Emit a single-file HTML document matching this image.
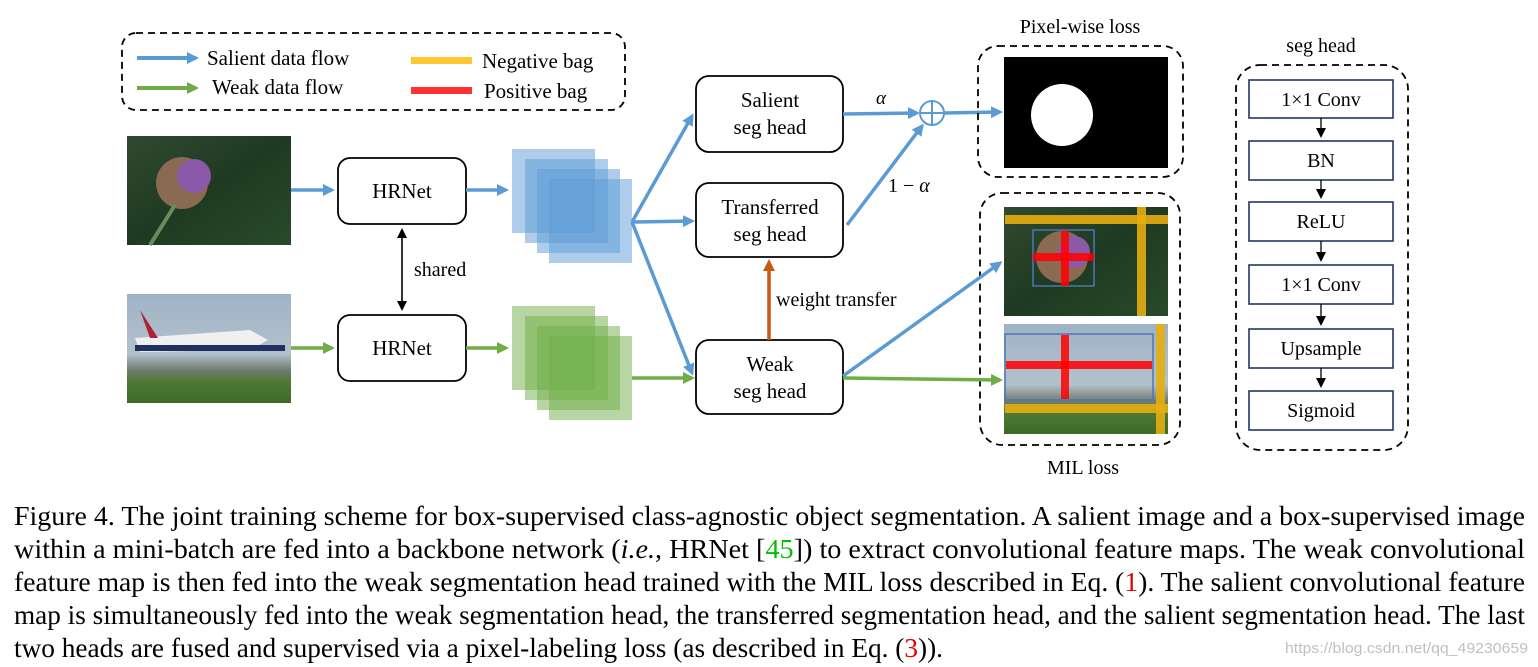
<!DOCTYPE html>
<html><head><meta charset="utf-8"><style>
html,body{margin:0;padding:0;background:#fff;}
svg{display:block;}
text{font-family:"Liberation Serif",serif;fill:#000;}
</style></head><body>
<svg width="1538" height="667" viewBox="0 0 1538 667" xmlns="http://www.w3.org/2000/svg">
<defs>
<marker id="ab" markerWidth="12" markerHeight="12" refX="9" refY="6" orient="auto" markerUnits="userSpaceOnUse"><path d="M0,0 L12,6 L0,12 z" fill="#5b9bd5"/></marker>
<marker id="ag" markerWidth="12" markerHeight="12" refX="9" refY="6" orient="auto" markerUnits="userSpaceOnUse"><path d="M0,0 L12,6 L0,12 z" fill="#70ad47"/></marker>
<marker id="ao" markerWidth="12" markerHeight="12" refX="8" refY="6" orient="auto" markerUnits="userSpaceOnUse"><path d="M0,0 L12,6 L0,12 z" fill="#c55a11"/></marker>
<marker id="ak" markerWidth="10" markerHeight="10" refX="8" refY="5" orient="auto" markerUnits="userSpaceOnUse"><path d="M0,0 L10,5 L0,10 z" fill="#000"/></marker>
<marker id="ak2" markerWidth="10" markerHeight="10" refX="8" refY="5" orient="auto-start-reverse" markerUnits="userSpaceOnUse"><path d="M0,0 L10,5 L0,10 z" fill="#000"/></marker>
<linearGradient id="fl" x1="0" y1="0" x2="1" y2="1"><stop offset="0" stop-color="#2f4a30"/><stop offset="0.5" stop-color="#1f3a22"/><stop offset="1" stop-color="#294a2a"/></linearGradient>
<linearGradient id="pl" x1="0" y1="0" x2="0" y2="1"><stop offset="0" stop-color="#9fb2c6"/><stop offset="0.55" stop-color="#b3c1cc"/><stop offset="0.7" stop-color="#707c70"/><stop offset="0.8" stop-color="#4e7a34"/><stop offset="1" stop-color="#3e6a2a"/></linearGradient>
</defs>

<rect x="122" y="33" width="503" height="77" rx="14" fill="none" stroke="#000" stroke-width="1.8" stroke-dasharray="7,5"/>
<line x1="137" y1="58" x2="196" y2="58" stroke="#5b9bd5" stroke-width="4" marker-end="url(#ab)"/>
<line x1="137" y1="88" x2="196" y2="88" stroke="#70ad47" stroke-width="4" marker-end="url(#ag)"/>
<text x="207" y="65" font-size="21">Salient data flow</text>
<text x="212" y="94" font-size="21">Weak data flow</text>
<rect x="411" y="57" width="61" height="7" fill="#ffc832"/>
<rect x="411" y="87" width="61" height="7" fill="#ff3333"/>
<text x="482" y="68" font-size="21">Negative bag</text>
<text x="484" y="98" font-size="21">Positive bag</text>

<rect x="127" y="136" width="164" height="109" fill="url(#fl)"/>
<circle cx="182" cy="183" r="26" fill="#8a6a50"/>
<circle cx="194" cy="176" r="17" fill="#8a5aa8"/>
<path d="M150 245 L175 205" stroke="#6b8a60" stroke-width="4"/>
<rect x="127" y="294" width="164" height="109" fill="url(#pl)"/>
<path d="M135 338 L250 330 L268 340 L250 350 L140 352 Z" fill="#eef0f2"/>
<path d="M140 310 L150 338 L158 338 Z" fill="#b02030"/>
<rect x="135" y="345" width="150" height="6" fill="#203060"/>

<rect x="338" y="158" width="128" height="66" rx="12" fill="#fff" stroke="#000" stroke-width="1.8"/>
<text x="402" y="198" font-size="21" text-anchor="middle">HRNet</text>
<rect x="338" y="315" width="128" height="66" rx="12" fill="#fff" stroke="#000" stroke-width="1.8"/>
<text x="402" y="355" font-size="21" text-anchor="middle">HRNet</text>
<line x1="402" y1="230" x2="402" y2="309" stroke="#000" stroke-width="1.6" marker-start="url(#ak2)" marker-end="url(#ak)"/>
<text x="414" y="276" font-size="20">shared</text>

<line x1="291" y1="190" x2="332" y2="190" stroke="#5b9bd5" stroke-width="3.5" marker-end="url(#ab)"/>
<line x1="291" y1="348" x2="332" y2="348" stroke="#70ad47" stroke-width="3.5" marker-end="url(#ag)"/>
<line x1="466" y1="190" x2="506" y2="190" stroke="#5b9bd5" stroke-width="3.5" marker-end="url(#ab)"/>
<line x1="466" y1="348" x2="506" y2="348" stroke="#70ad47" stroke-width="3.5" marker-end="url(#ag)"/>

<g fill="#5b9bd5" fill-opacity="0.5">
<rect x="512" y="149" width="83" height="84"/><rect x="525" y="159" width="83" height="84"/><rect x="537" y="169" width="83" height="84"/><rect x="549" y="179" width="83" height="84"/>
</g>
<g fill="#70ad47" fill-opacity="0.5">
<rect x="512" y="306" width="83" height="84"/><rect x="525" y="316" width="83" height="84"/><rect x="537" y="326" width="83" height="84"/><rect x="549" y="336" width="83" height="84"/>
</g>

<line x1="632" y1="222" x2="692" y2="116" stroke="#5b9bd5" stroke-width="3.5" marker-end="url(#ab)"/>
<line x1="632" y1="222" x2="692" y2="221" stroke="#5b9bd5" stroke-width="3.5" marker-end="url(#ab)"/>
<line x1="632" y1="222" x2="692" y2="373" stroke="#5b9bd5" stroke-width="3.5" marker-end="url(#ab)"/>
<line x1="632" y1="378" x2="692" y2="378" stroke="#70ad47" stroke-width="3.5" marker-end="url(#ag)"/>

<rect x="696" y="76" width="147" height="76" rx="13" fill="#fff" stroke="#000" stroke-width="1.8"/>
<text x="770" y="107" font-size="21" text-anchor="middle">Salient</text>
<text x="770" y="134" font-size="21" text-anchor="middle">seg head</text>
<rect x="696" y="183" width="147" height="74" rx="13" fill="#fff" stroke="#000" stroke-width="1.8"/>
<text x="770" y="214" font-size="21" text-anchor="middle">Transferred</text>
<text x="770" y="241" font-size="21" text-anchor="middle">seg head</text>
<rect x="696" y="340" width="147" height="74" rx="13" fill="#fff" stroke="#000" stroke-width="1.8"/>
<text x="770" y="371" font-size="21" text-anchor="middle">Weak</text>
<text x="770" y="398" font-size="21" text-anchor="middle">seg head</text>
<line x1="769" y1="340" x2="769" y2="263" stroke="#c55a11" stroke-width="3.5" marker-end="url(#ao)"/>
<text x="776" y="306" font-size="20">weight transfer</text>

<line x1="843" y1="114" x2="917" y2="113" stroke="#5b9bd5" stroke-width="3.5" marker-end="url(#ab)"/>
<text x="876" y="104" font-size="19" font-style="italic">α</text>
<line x1="847" y1="225" x2="922" y2="126" stroke="#5b9bd5" stroke-width="3.5" marker-end="url(#ab)"/>
<text x="888" y="192" font-size="20">1 − <tspan font-style="italic">α</tspan></text>
<circle cx="932" cy="113" r="12" fill="#fff" stroke="#5b9bd5" stroke-width="2"/>
<line x1="920" y1="113" x2="944" y2="113" stroke="#5b9bd5" stroke-width="2"/>
<line x1="932" y1="101" x2="932" y2="125" stroke="#5b9bd5" stroke-width="2"/>
<line x1="944" y1="113" x2="1000" y2="112" stroke="#5b9bd5" stroke-width="3.5" marker-end="url(#ab)"/>

<text x="1080" y="33" font-size="20" text-anchor="middle">Pixel-wise loss</text>
<rect x="978" y="46" width="205" height="131" rx="20" fill="none" stroke="#000" stroke-width="1.8" stroke-dasharray="7,5"/>
<rect x="1004" y="57" width="164" height="111" fill="#000"/>
<circle cx="1062" cy="115" r="31" fill="#fff"/>

<rect x="980" y="193" width="200" height="252" rx="22" fill="none" stroke="#000" stroke-width="1.8" stroke-dasharray="7,5"/>
<text x="1083" y="474" font-size="20" text-anchor="middle">MIL loss</text>
<line x1="843" y1="376" x2="1000" y2="263" stroke="#5b9bd5" stroke-width="3.5" marker-end="url(#ab)"/>
<line x1="843" y1="378" x2="1000" y2="380" stroke="#70ad47" stroke-width="3.5" marker-end="url(#ag)"/>
<rect x="1004" y="207" width="164" height="109" fill="url(#fl)"/>
<circle cx="1062" cy="257" r="26" fill="#8a6a50"/>
<circle cx="1074" cy="252" r="16" fill="#8a5aa8"/>
<rect x="1005" y="215" width="163" height="9" fill="#e6ad10" fill-opacity="0.9"/>
<rect x="1137" y="207" width="9" height="109" fill="#e6ad10" fill-opacity="0.9"/>
<rect x="1033" y="230" width="61" height="56" fill="none" stroke="#4a78b0" stroke-width="1.5"/>
<rect x="1033" y="253" width="61" height="8" fill="#ff0000" fill-opacity="0.85"/>
<rect x="1061" y="231" width="8" height="55" fill="#ff0000" fill-opacity="0.85"/>
<rect x="1004" y="324" width="164" height="110" fill="url(#pl)"/>
<rect x="1005" y="334" width="148" height="66" fill="none" stroke="#4a78b0" stroke-width="1.5"/>
<rect x="1006" y="361" width="146" height="8" fill="#ff0000" fill-opacity="0.85"/>
<rect x="1061" y="335" width="8" height="64" fill="#ff0000" fill-opacity="0.85"/>
<rect x="1005" y="404" width="163" height="9" fill="#e6ad10" fill-opacity="0.9"/>
<rect x="1156" y="324" width="9" height="110" fill="#e6ad10" fill-opacity="0.9"/>

<text x="1321" y="52" font-size="20" text-anchor="middle">seg head</text>
<rect x="1236" y="65" width="172" height="385" rx="24" fill="none" stroke="#000" stroke-width="1.8" stroke-dasharray="7,5"/>
<g fill="#fff" stroke="#1f3864" stroke-width="1.6">
<rect x="1249" y="80" width="144" height="38"/><rect x="1249" y="141" width="144" height="39"/><rect x="1249" y="202" width="144" height="39"/><rect x="1249" y="265" width="144" height="39"/><rect x="1249" y="329" width="144" height="39"/><rect x="1249" y="391" width="144" height="39"/>
</g>
<g stroke="#000" stroke-width="1.3">
<line x1="1321" y1="118" x2="1321" y2="136" marker-end="url(#ak)"/><line x1="1321" y1="180" x2="1321" y2="197" marker-end="url(#ak)"/><line x1="1321" y1="241" x2="1321" y2="260" marker-end="url(#ak)"/><line x1="1321" y1="304" x2="1321" y2="324" marker-end="url(#ak)"/><line x1="1321" y1="368" x2="1321" y2="386" marker-end="url(#ak)"/>
</g>
<g font-size="20" text-anchor="middle">
<text x="1321" y="106">1×1 Conv</text><text x="1321" y="167">BN</text><text x="1321" y="228">ReLU</text><text x="1321" y="291">1×1 Conv</text><text x="1321" y="355">Upsample</text><text x="1321" y="417">Sigmoid</text>
</g>

<g font-size="27">
<text x="14" y="525" textLength="1511" lengthAdjust="spacingAndGlyphs">Figure 4. The joint training scheme for box-supervised class-agnostic object segmentation.  A salient image and a box-supervised image</text>
<text x="14" y="558" textLength="1511" lengthAdjust="spacingAndGlyphs">within a mini-batch are fed into a backbone network (<tspan font-style="italic">i.e.</tspan>, HRNet [<tspan fill="#00c000">45</tspan>]) to extract convolutional feature maps.  The weak convolutional</text>
<text x="14" y="591" textLength="1511" lengthAdjust="spacingAndGlyphs">feature map is then fed into the weak segmentation head trained with the MIL loss described in Eq. (<tspan fill="#e00000">1</tspan>). The salient convolutional feature</text>
<text x="14" y="624" textLength="1511" lengthAdjust="spacingAndGlyphs">map is simultaneously fed into the weak segmentation head, the transferred segmentation head, and the salient segmentation head. The last</text>
<text x="14" y="657" textLength="929" lengthAdjust="spacingAndGlyphs">two heads are fused and supervised via a pixel-labeling loss (as described in Eq. (<tspan fill="#e00000">3</tspan>)).</text>
</g>
<text x="1285" y="653" font-size="15" fill="#c0c0c0" style="font-family:'Liberation Sans',sans-serif;fill:#c0c0c0" textLength="243" lengthAdjust="spacingAndGlyphs">https://blog.csdn.net/qq_49230659</text>
</svg>
</body></html>
